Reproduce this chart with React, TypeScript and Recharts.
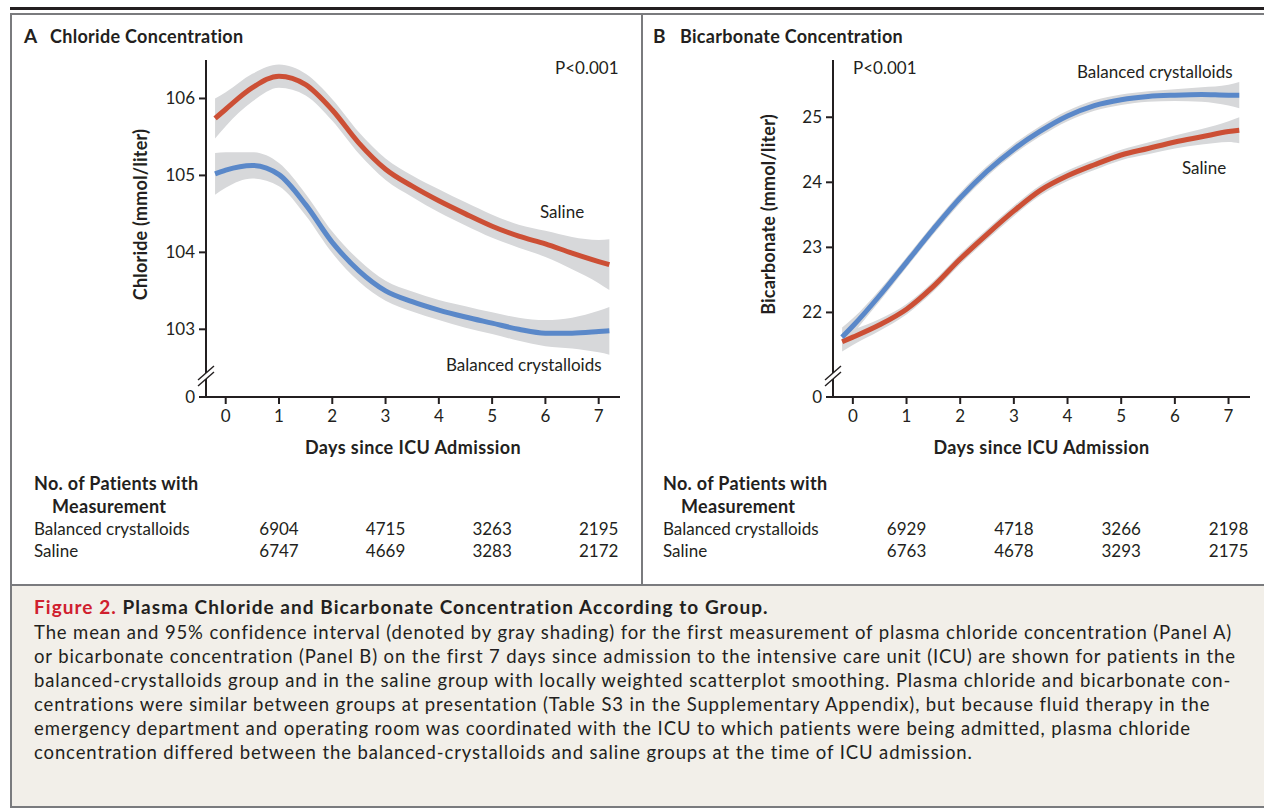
import React from 'react';
import { ComposedChart, Area, Line, XAxis, YAxis } from 'recharts';

// days since ICU admission at which the smoothed curves were read
const days = [-0.2, 0, 0.5, 1, 1.5, 2, 2.5, 3, 3.5, 4, 4.5, 5, 5.5, 6, 6.5, 7, 7.2];
const dayTicks = [0, 1, 2, 3, 4, 5, 6, 7];

// Panel A – chloride (mmol/liter)
const chlorideSaline = [105.74, 105.86, 106.14, 106.29, 106.18, 105.85, 105.42, 105.08, 104.86, 104.67, 104.5, 104.34, 104.21, 104.11, 103.99, 103.88, 103.84];
const chlorideSalineCI = [0.26, 0.22, 0.18, 0.15, 0.14, 0.14, 0.14, 0.14, 0.14, 0.15, 0.15, 0.15, 0.15, 0.17, 0.21, 0.28, 0.33];
const chlorideBalanced = [105.02, 105.07, 105.13, 105.01, 104.62, 104.13, 103.76, 103.5, 103.36, 103.25, 103.16, 103.08, 103.0, 102.95, 102.95, 102.97, 102.98];
const chlorideBalancedCI = [0.27, 0.23, 0.17, 0.15, 0.14, 0.14, 0.14, 0.13, 0.13, 0.13, 0.14, 0.14, 0.15, 0.17, 0.2, 0.27, 0.31];
const chlorideTicks = [103, 104, 105, 106];

// Panel B – bicarbonate (mmol/liter)
const bicarbBalanced = [21.62, 21.79, 22.26, 22.77, 23.28, 23.76, 24.17, 24.51, 24.79, 25.02, 25.18, 25.27, 25.32, 25.34, 25.35, 25.34, 25.34];
const bicarbBalancedCI = [0.15, 0.12, 0.09, 0.08, 0.08, 0.08, 0.08, 0.08, 0.08, 0.08, 0.08, 0.08, 0.08, 0.09, 0.11, 0.16, 0.2];
const bicarbSaline = [21.55, 21.62, 21.81, 22.05, 22.4, 22.82, 23.2, 23.56, 23.88, 24.1, 24.27, 24.42, 24.52, 24.62, 24.7, 24.78, 24.8];
const bicarbSalineCI = [0.15, 0.12, 0.09, 0.08, 0.08, 0.08, 0.08, 0.08, 0.08, 0.08, 0.08, 0.08, 0.09, 0.1, 0.12, 0.16, 0.2];
const bicarbTicks = [22, 23, 24, 25];

// No. of patients with measurement
const countDays = [1, 3, 5, 7];
const chlorideBalancedN = [6904, 4715, 3263, 2195];
const chlorideSalineN = [6747, 4669, 3283, 2172];
const bicarbBalancedN = [6929, 4718, 3266, 2198];
const bicarbSalineN = [6763, 4678, 3293, 2175];

const captionTitle = 'Plasma Chloride and Bicarbonate Concentration According to Group.';
const captionLines = [
  'The mean and 95% confidence interval (denoted by gray shading) for the first measurement of plasma chloride concentration (Panel A)',
  'or bicarbonate concentration (Panel B) on the first 7 days since admission to the intensive care unit (ICU) are shown for patients in the',
  'balanced-crystalloids group and in the saline group with locally weighted scatterplot smoothing. Plasma chloride and bicarbonate con-',
  'centrations were similar between groups at presentation (Table S3 in the Supplementary Appendix), but because fluid therapy in the',
  'emergency department and operating room was coordinated with the ICU to which patients were being admitted, plasma chloride',
  'concentration differed between the balanced-crystalloids and saline groups at the time of ICU admission.',
];

const RED = '#cc4f35';
const BLUE = '#5a88c9';
const BAND = '#d7d8da';
const INK = '#231f20';
const FRAME = '#7a7b7e';
const FONT = 'Lato, "Open Sans", sans-serif';

const buildRows = (sal: number[], salCI: number[], bal: number[], balCI: number[]) =>
  days.map((day, i) => ({
    day,
    saline: sal[i],
    salineBand: [sal[i] - salCI[i], sal[i] + salCI[i]],
    balanced: bal[i],
    balancedBand: [bal[i] - balCI[i], bal[i] + balCI[i]],
  }));

const chlorideData = buildRows(chlorideSaline, chlorideSalineCI, chlorideBalanced, chlorideBalancedCI);
const bicarbData = buildRows(bicarbSaline, bicarbSalineCI, bicarbBalanced, bicarbBalancedCI);

const YTick = ({ x, y, payload, breakValue }: any) => {
  const isBreak = payload.value === breakValue;
  const ax = x + 9;
  const by = y - 21;
  return (
    <g>
      <text x={x - 2} y={y} dy={6} textAnchor="end" fontSize={17} fill={INK} fontFamily={FONT}>
        {isBreak ? '0' : payload.value}
      </text>
      {isBreak && (
        <g>
          <polygon points={`${ax - 8},${by + 4} ${ax + 8},${by - 10} ${ax + 8},${by - 4} ${ax - 8},${by + 10}`} fill="#fff" />
          <line x1={ax - 8} y1={by + 4} x2={ax + 8} y2={by - 10} stroke={INK} strokeWidth={1.4} />
          <line x1={ax - 8} y1={by + 10} x2={ax + 8} y2={by - 4} stroke={INK} strokeWidth={1.4} />
        </g>
      )}
    </g>
  );
};

const XTick = ({ x, y, payload, counts }: any) => {
  const i = countDays.indexOf(payload.value);
  return (
    <g>
      <text x={x} y={y + 16} textAnchor="middle" fontSize={17} fill={INK} fontFamily={FONT}>
        {payload.value}
      </text>
      {i >= 0 &&
        counts.map((row: number[], r: number) => (
          <text key={r} x={x} y={y + 129 + r * 22} textAnchor="middle" fontSize={17} fill={INK} fontFamily={FONT}>
            {row[i]}
          </text>
        ))}
    </g>
  );
};

const yLabel = (text: string, dx: number) => (props: any) => {
  const { viewBox } = props;
  const cx = viewBox.x + dx;
  const cy = viewBox.y + viewBox.height / 2 - 14;
  return (
    <text
      x={cx}
      y={cy}
      transform={`rotate(-90 ${cx} ${cy})`}
      textAnchor="middle"
      dominantBaseline="central"
      fontSize={18}
      fontWeight={700}
      letterSpacing={0.2}
      fill={INK}
      fontFamily={FONT}
    >
      {text}
    </text>
  );
};

interface PanelProps {
  data: any[];
  domain: [number, number];
  ticks: number[];
  yTitle: string;
  yTitleDx: number;
  counts: number[][];
  width: number;
  marginRight: number;
}

const Panel = ({ data, domain, ticks, yTitle, yTitleDx, counts, width, marginRight }: PanelProps) => (
  <ComposedChart width={width} height={530} data={data} margin={{ top: 20, right: marginRight, left: 20, bottom: 113 }}>
    <XAxis
      type="number"
      dataKey="day"
      domain={[-0.37, 7.4]}
      ticks={dayTicks}
      allowDataOverflow
      height={60}
      tickSize={7}
      axisLine={{ stroke: INK, strokeWidth: 2 }}
      tickLine={{ stroke: INK, strokeWidth: 2 }}
      tick={(p: any) => <XTick {...p} counts={counts} />}
      label={{
        value: 'Days since ICU Admission',
        position: 'insideBottom',
        offset: 3,
        style: { fontSize: 18, fontWeight: 700, fill: INK, fontFamily: FONT, letterSpacing: 0.4 },
      }}
    />
    <YAxis
      type="number"
      domain={domain}
      ticks={[domain[0], ...ticks]}
      allowDataOverflow
      width={86}
      tickSize={7}
      axisLine={{ stroke: INK, strokeWidth: 2 }}
      tickLine={{ stroke: INK, strokeWidth: 2 }}
      tick={(p: any) => <YTick {...p} breakValue={domain[0]} />}
      label={yLabel(yTitle, yTitleDx)}
    />
    <Area type="monotone" dataKey="salineBand" stroke="none" fill={BAND} fillOpacity={1} isAnimationActive={false} />
    <Area type="monotone" dataKey="balancedBand" stroke="none" fill={BAND} fillOpacity={1} isAnimationActive={false} />
    <Line type="monotone" dataKey="saline" stroke={RED} strokeWidth={5} dot={false} activeDot={false} isAnimationActive={false} />
    <Line type="monotone" dataKey="balanced" stroke={BLUE} strokeWidth={5} dot={false} activeDot={false} isAnimationActive={false} />
  </ComposedChart>
);

const T = ({ left, top, children, bold, size, color = INK }: any) => (
  <div
    style={{
      position: 'absolute',
      left,
      top,
      fontSize: size ?? (bold ? 18 : 17),
      lineHeight: '20px',
      fontWeight: bold ? 700 : 400,
      letterSpacing: bold ? 0.3 : 0,
      color,
      whiteSpace: 'nowrap',
      fontFamily: FONT,
    }}
  >
    {children}
  </div>
);

export default function App() {
  return (
    <div style={{ position: 'absolute', left: 0, top: 0, width: 1264, height: 808, overflow: 'hidden', background: '#fff', fontFamily: FONT }}>
      {/* top rule and frame */}
      <div style={{ position: 'absolute', left: 10, top: 7, width: 1254, height: 2.5, background: INK }} />
      <div style={{ position: 'absolute', left: 10, top: 13, width: 1254, height: 571, borderTop: `2px solid ${FRAME}`, borderLeft: `2px solid ${FRAME}`, boxSizing: 'border-box' }} />
      <div style={{ position: 'absolute', left: 641, top: 13, width: 2, height: 571, background: FRAME }} />

      {/* panel titles */}
      <T left={24} top={26} bold size={19}>A</T>
      <T left={50} top={26} bold>Chloride Concentration</T>
      <T left={653} top={26} bold size={19}>B</T>
      <T left={680} top={26} bold>Bicarbonate Concentration</T>

      <div style={{ position: 'absolute', left: 100, top: 40 }}>
        <Panel
          data={chlorideData}
          domain={[102.12, 106.5]}
          ticks={chlorideTicks}
          yTitle="Chloride (mmol/liter)"
          yTitleDx={20}
          counts={[chlorideBalancedN, chlorideSalineN]}
          width={540}
          marginRight={20}
        />
      </div>
      <div style={{ position: 'absolute', left: 727, top: 40 }}>
        <Panel
          data={bicarbData}
          domain={[20.7, 25.88]}
          ticks={bicarbTicks}
          yTitle="Bicarbonate (mmol/liter)"
          yTitleDx={21}
          counts={[bicarbBalancedN, bicarbSalineN]}
          width={530}
          marginRight={7}
        />
      </div>

      {/* annotations */}
      <T left={555} top={58}>P&lt;0.001</T>
      <T left={540} top={202}>Saline</T>
      <T left={446} top={355}>Balanced crystalloids</T>
      <T left={853} top={58}>P&lt;0.001</T>
      <T left={1077} top={62}>Balanced crystalloids</T>
      <T left={1182} top={158}>Saline</T>

      {/* patient count row labels */}
      <T left={34} top={473} bold>No. of Patients with</T>
      <T left={52} top={496} bold>Measurement</T>
      <T left={34} top={519}>Balanced crystalloids</T>
      <T left={34} top={541}>Saline</T>
      <T left={663} top={473} bold>No. of Patients with</T>
      <T left={681} top={496} bold>Measurement</T>
      <T left={663} top={519}>Balanced crystalloids</T>
      <T left={663} top={541}>Saline</T>

      {/* caption */}
      <div
        style={{
          position: 'absolute',
          left: 10,
          top: 584,
          width: 1254,
          height: 224,
          background: '#f2efe9',
          borderTop: `2px solid ${FRAME}`,
          borderLeft: `2px solid ${FRAME}`,
          borderBottom: `2px solid ${FRAME}`,
          boxSizing: 'border-box',
        }}
      />
      <div style={{ position: 'absolute', left: 34, top: 597, fontSize: 19, lineHeight: '20px', fontWeight: 700, letterSpacing: 1.05, color: INK, whiteSpace: 'nowrap' }}>
        <span style={{ color: '#d0202e' }}>Figure 2.</span> {captionTitle}
      </div>
      {captionLines.map((line, i) => (
        <div key={i} style={{ position: 'absolute', left: 34, top: 620 + i * 24, fontSize: 18.5, lineHeight: '24px', letterSpacing: 0.88, color: INK, whiteSpace: 'nowrap' }}>
          {line}
        </div>
      ))}
    </div>
  );
}
